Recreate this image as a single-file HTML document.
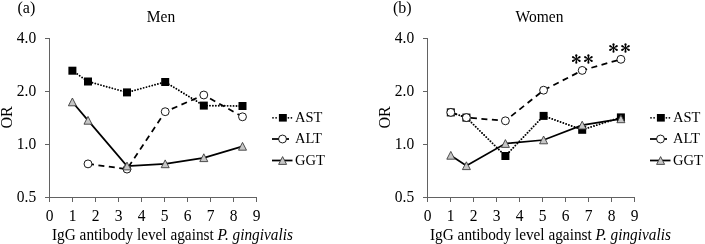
<!DOCTYPE html>
<html><head><meta charset="utf-8"><style>
html,body{margin:0;padding:0;background:#fff;}
body{width:705px;height:244px;overflow:hidden;}
svg{display:block;will-change:transform;}
svg{font-family:"Liberation Serif", serif;font-size:16px;} text{fill:#000;}
</style></head><body>
<svg width="705" height="244" viewBox="0 0 705 244">
<rect width="705" height="244" fill="#fff"/>
<g stroke="#626262" stroke-width="1">
<line x1="49.5" y1="38" x2="49.5" y2="202"/>
<line x1="45.0" y1="197.5" x2="257.0" y2="197.5"/>
<line x1="45.0" y1="38.5" x2="49.5" y2="38.5"/>
<line x1="45.0" y1="91.5" x2="49.5" y2="91.5"/>
<line x1="45.0" y1="144.5" x2="49.5" y2="144.5"/>
<line x1="45.0" y1="197.5" x2="49.5" y2="197.5"/>
<line x1="49.5" y1="197" x2="49.5" y2="202"/>
<line x1="72.5" y1="197" x2="72.5" y2="202"/>
<line x1="95.5" y1="197" x2="95.5" y2="202"/>
<line x1="118.5" y1="197" x2="118.5" y2="202"/>
<line x1="141.5" y1="197" x2="141.5" y2="202"/>
<line x1="164.5" y1="197" x2="164.5" y2="202"/>
<line x1="187.5" y1="197" x2="187.5" y2="202"/>
<line x1="210.5" y1="197" x2="210.5" y2="202"/>
<line x1="233.5" y1="197" x2="233.5" y2="202"/>
<line x1="256.5" y1="197" x2="256.5" y2="202"/>
</g>
<text transform="translate(36.20,42.80) scale(1,1.05)" text-anchor="end" style="font-size:15.5px">4.0</text>
<text transform="translate(36.20,95.80) scale(1,1.05)" text-anchor="end" style="font-size:15.5px">2.0</text>
<text transform="translate(36.20,148.80) scale(1,1.05)" text-anchor="end" style="font-size:15.5px">1.0</text>
<text transform="translate(36.20,201.80) scale(1,1.05)" text-anchor="end" style="font-size:15.5px">0.5</text>
<text transform="translate(49.50,220.50) scale(1,1.05)" text-anchor="middle" style="font-size:15.5px">0</text>
<text transform="translate(72.50,220.50) scale(1,1.05)" text-anchor="middle" style="font-size:15.5px">1</text>
<text transform="translate(95.50,220.50) scale(1,1.05)" text-anchor="middle" style="font-size:15.5px">2</text>
<text transform="translate(118.50,220.50) scale(1,1.05)" text-anchor="middle" style="font-size:15.5px">3</text>
<text transform="translate(141.50,220.50) scale(1,1.05)" text-anchor="middle" style="font-size:15.5px">4</text>
<text transform="translate(164.50,220.50) scale(1,1.05)" text-anchor="middle" style="font-size:15.5px">5</text>
<text transform="translate(187.50,220.50) scale(1,1.05)" text-anchor="middle" style="font-size:15.5px">6</text>
<text transform="translate(210.50,220.50) scale(1,1.05)" text-anchor="middle" style="font-size:15.5px">7</text>
<text transform="translate(233.50,220.50) scale(1,1.05)" text-anchor="middle" style="font-size:15.5px">8</text>
<text transform="translate(256.50,220.50) scale(1,1.05)" text-anchor="middle" style="font-size:15.5px">9</text>
<text transform="translate(52.00,239.60) scale(1,1.05)" style="font-size:15.3px">IgG antibody level against <tspan font-style="italic">P. gingivalis</tspan></text>
<text transform="translate(12.0,117.5) rotate(-90)" text-anchor="middle">OR</text>
<text transform="translate(17.50,12.50) scale(1,1.0)" style="font-size:16.0px">(a)</text>
<text transform="translate(161.00,21.70) scale(1,1.05)" text-anchor="middle" style="font-size:15.5px">Men</text>
<polyline points="72.4,70.7 88.0,81.5 127.0,92.4 165.2,82.0 203.8,105.60000000000001 242.5,106.0" fill="none" stroke="#000" stroke-width="1.9" stroke-dasharray="0.01 2.94" stroke-linecap="round"/>
<polyline points="88.0,163.9 127.0,169.1 165.2,111.7 203.8,95.0 242.5,116.80000000000001" fill="none" stroke="#000" stroke-width="1.75" stroke-dasharray="6 4.5"/>
<polyline points="72.4,102.0 88.0,120.4 127.0,166.1 165.2,163.9 203.8,157.8 242.5,146.4" fill="none" stroke="#000" stroke-width="1.75"/>
<rect x="68.4" y="66.7" width="8" height="8" fill="#000"/>
<rect x="84.0" y="77.5" width="8" height="8" fill="#000"/>
<rect x="123.0" y="88.4" width="8" height="8" fill="#000"/>
<rect x="161.2" y="78.0" width="8" height="8" fill="#000"/>
<rect x="199.8" y="101.60000000000001" width="8" height="8" fill="#000"/>
<rect x="238.5" y="102.0" width="8" height="8" fill="#000"/>
<circle cx="88.0" cy="163.9" r="3.95" fill="#fff" stroke="#000" stroke-width="0.9"/>
<circle cx="127.0" cy="169.1" r="3.95" fill="#fff" stroke="#000" stroke-width="0.9"/>
<circle cx="165.2" cy="111.7" r="3.95" fill="#fff" stroke="#000" stroke-width="0.9"/>
<circle cx="203.8" cy="95.0" r="3.95" fill="#fff" stroke="#000" stroke-width="0.9"/>
<circle cx="242.5" cy="116.80000000000001" r="3.95" fill="#fff" stroke="#000" stroke-width="0.9"/>
<polygon points="72.4,98.0 76.4,105.8 68.4,105.8" fill="#c6c6c6" stroke="#3c3c3c" stroke-width="0.9"/>
<polygon points="88.0,116.4 92.0,124.2 84.0,124.2" fill="#c6c6c6" stroke="#3c3c3c" stroke-width="0.9"/>
<polygon points="127.0,162.1 131.0,169.9 123.0,169.9" fill="#c6c6c6" stroke="#3c3c3c" stroke-width="0.9"/>
<polygon points="165.2,159.9 169.2,167.70000000000002 161.2,167.70000000000002" fill="#c6c6c6" stroke="#3c3c3c" stroke-width="0.9"/>
<polygon points="203.8,153.8 207.8,161.60000000000002 199.8,161.60000000000002" fill="#c6c6c6" stroke="#3c3c3c" stroke-width="0.9"/>
<polygon points="242.5,142.4 246.5,150.20000000000002 238.5,150.20000000000002" fill="#c6c6c6" stroke="#3c3c3c" stroke-width="0.9"/>
<g style="font-size:14.5px">
<circle cx="273.0" cy="117.8" r="0.9" fill="#000"/>
<circle cx="276.1" cy="117.8" r="0.9" fill="#000"/>
<circle cx="288.4" cy="117.8" r="0.9" fill="#000"/>
<circle cx="291.4" cy="117.8" r="0.9" fill="#000"/>
<rect x="278.9" y="114" width="7.9" height="7.6" fill="#000"/>
<text transform="translate(295.00,121.60) scale(1,1.05)" style="font-size:14.5px">AST</text>
<line x1="272" y1="139" x2="289" y2="139" stroke="#000" stroke-width="1.75"/>
<circle cx="282.5" cy="139" r="3.95" fill="#fff" stroke="#000" stroke-width="0.9"/>
<text transform="translate(295.00,143.20) scale(1,1.05)" style="font-size:14.5px">ALT</text>
<line x1="272" y1="160.5" x2="292.5" y2="160.5" stroke="#000" stroke-width="1.75"/>
<polygon points="282.6,156.6 286.6,164.4 278.6,164.4" fill="#c6c6c6" stroke="#3c3c3c" stroke-width="0.9"/>
<text transform="translate(295.00,164.70) scale(1,1.05)" style="font-size:14.5px">GGT</text>
</g>
<g stroke="#626262" stroke-width="1">
<line x1="427.5" y1="38" x2="427.5" y2="202"/>
<line x1="423.0" y1="197.5" x2="635.0" y2="197.5"/>
<line x1="423.0" y1="38.5" x2="427.5" y2="38.5"/>
<line x1="423.0" y1="91.5" x2="427.5" y2="91.5"/>
<line x1="423.0" y1="144.5" x2="427.5" y2="144.5"/>
<line x1="423.0" y1="197.5" x2="427.5" y2="197.5"/>
<line x1="427.5" y1="197" x2="427.5" y2="202"/>
<line x1="450.5" y1="197" x2="450.5" y2="202"/>
<line x1="473.5" y1="197" x2="473.5" y2="202"/>
<line x1="496.5" y1="197" x2="496.5" y2="202"/>
<line x1="519.5" y1="197" x2="519.5" y2="202"/>
<line x1="542.5" y1="197" x2="542.5" y2="202"/>
<line x1="565.5" y1="197" x2="565.5" y2="202"/>
<line x1="588.5" y1="197" x2="588.5" y2="202"/>
<line x1="611.5" y1="197" x2="611.5" y2="202"/>
<line x1="634.5" y1="197" x2="634.5" y2="202"/>
</g>
<text transform="translate(414.20,42.80) scale(1,1.05)" text-anchor="end" style="font-size:15.5px">4.0</text>
<text transform="translate(414.20,95.80) scale(1,1.05)" text-anchor="end" style="font-size:15.5px">2.0</text>
<text transform="translate(414.20,148.80) scale(1,1.05)" text-anchor="end" style="font-size:15.5px">1.0</text>
<text transform="translate(414.20,201.80) scale(1,1.05)" text-anchor="end" style="font-size:15.5px">0.5</text>
<text transform="translate(427.50,220.50) scale(1,1.05)" text-anchor="middle" style="font-size:15.5px">0</text>
<text transform="translate(450.50,220.50) scale(1,1.05)" text-anchor="middle" style="font-size:15.5px">1</text>
<text transform="translate(473.50,220.50) scale(1,1.05)" text-anchor="middle" style="font-size:15.5px">2</text>
<text transform="translate(496.50,220.50) scale(1,1.05)" text-anchor="middle" style="font-size:15.5px">3</text>
<text transform="translate(519.50,220.50) scale(1,1.05)" text-anchor="middle" style="font-size:15.5px">4</text>
<text transform="translate(542.50,220.50) scale(1,1.05)" text-anchor="middle" style="font-size:15.5px">5</text>
<text transform="translate(565.50,220.50) scale(1,1.05)" text-anchor="middle" style="font-size:15.5px">6</text>
<text transform="translate(588.50,220.50) scale(1,1.05)" text-anchor="middle" style="font-size:15.5px">7</text>
<text transform="translate(611.50,220.50) scale(1,1.05)" text-anchor="middle" style="font-size:15.5px">8</text>
<text transform="translate(634.50,220.50) scale(1,1.05)" text-anchor="middle" style="font-size:15.5px">9</text>
<text transform="translate(430.00,239.60) scale(1,1.05)" style="font-size:15.3px">IgG antibody level against <tspan font-style="italic">P. gingivalis</tspan></text>
<text transform="translate(390.0,117.5) rotate(-90)" text-anchor="middle">OR</text>
<text transform="translate(392.90,12.50) scale(1,1.0)" style="font-size:16.0px">(b)</text>
<text transform="translate(539.50,21.70) scale(1,1.05)" text-anchor="middle" style="font-size:15.5px">Women</text>
<polyline points="450.79999999999995,112.4 466.4,117.60000000000001 505.4,156.0 543.5999999999999,115.9 582.2,129.8 620.9,117.4" fill="none" stroke="#000" stroke-width="1.9" stroke-dasharray="0.01 2.94" stroke-linecap="round"/>
<polyline points="450.79999999999995,112.4 466.4,117.60000000000001 505.4,120.80000000000001 543.5999999999999,90.2 582.2,70.4 620.9,59.3" fill="none" stroke="#000" stroke-width="1.75" stroke-dasharray="6 4.5"/>
<polyline points="450.79999999999995,155.4 466.4,165.8 505.4,143.6 543.5999999999999,140.0 582.2,125.2 620.9,118.9" fill="none" stroke="#000" stroke-width="1.75"/>
<rect x="446.79999999999995" y="108.4" width="8" height="8" fill="#000"/>
<rect x="462.4" y="113.60000000000001" width="8" height="8" fill="#000"/>
<rect x="501.4" y="152.0" width="8" height="8" fill="#000"/>
<rect x="539.5999999999999" y="111.9" width="8" height="8" fill="#000"/>
<rect x="578.2" y="125.80000000000001" width="8" height="8" fill="#000"/>
<rect x="616.9" y="113.4" width="8" height="8" fill="#000"/>
<circle cx="450.79999999999995" cy="112.4" r="3.95" fill="#fff" stroke="#000" stroke-width="0.9"/>
<circle cx="466.4" cy="117.60000000000001" r="3.95" fill="#fff" stroke="#000" stroke-width="0.9"/>
<circle cx="505.4" cy="120.80000000000001" r="3.95" fill="#fff" stroke="#000" stroke-width="0.9"/>
<circle cx="543.5999999999999" cy="90.2" r="3.95" fill="#fff" stroke="#000" stroke-width="0.9"/>
<circle cx="582.2" cy="70.4" r="3.95" fill="#fff" stroke="#000" stroke-width="0.9"/>
<circle cx="620.9" cy="59.3" r="3.95" fill="#fff" stroke="#000" stroke-width="0.9"/>
<polygon points="450.79999999999995,151.4 454.79999999999995,159.20000000000002 446.79999999999995,159.20000000000002" fill="#c6c6c6" stroke="#3c3c3c" stroke-width="0.9"/>
<polygon points="466.4,161.8 470.4,169.60000000000002 462.4,169.60000000000002" fill="#c6c6c6" stroke="#3c3c3c" stroke-width="0.9"/>
<polygon points="505.4,139.6 509.4,147.4 501.4,147.4" fill="#c6c6c6" stroke="#3c3c3c" stroke-width="0.9"/>
<polygon points="543.5999999999999,136.0 547.5999999999999,143.8 539.5999999999999,143.8" fill="#c6c6c6" stroke="#3c3c3c" stroke-width="0.9"/>
<polygon points="582.2,121.2 586.2,129.0 578.2,129.0" fill="#c6c6c6" stroke="#3c3c3c" stroke-width="0.9"/>
<polygon points="620.9,114.9 624.9,122.7 616.9,122.7" fill="#c6c6c6" stroke="#3c3c3c" stroke-width="0.9"/>
<g style="font-size:14.5px">
<circle cx="651.0" cy="117.8" r="0.9" fill="#000"/>
<circle cx="654.1" cy="117.8" r="0.9" fill="#000"/>
<circle cx="666.4" cy="117.8" r="0.9" fill="#000"/>
<circle cx="669.4" cy="117.8" r="0.9" fill="#000"/>
<rect x="656.9" y="114" width="7.9" height="7.6" fill="#000"/>
<text transform="translate(673.00,121.60) scale(1,1.05)" style="font-size:14.5px">AST</text>
<line x1="650" y1="139" x2="667" y2="139" stroke="#000" stroke-width="1.75"/>
<circle cx="660.5" cy="139" r="3.95" fill="#fff" stroke="#000" stroke-width="0.9"/>
<text transform="translate(673.00,143.20) scale(1,1.05)" style="font-size:14.5px">ALT</text>
<line x1="650" y1="160.5" x2="670.5" y2="160.5" stroke="#000" stroke-width="1.75"/>
<polygon points="660.6,156.6 664.6,164.4 656.6,164.4" fill="#c6c6c6" stroke="#3c3c3c" stroke-width="0.9"/>
<text transform="translate(673.00,164.70) scale(1,1.05)" style="font-size:14.5px">GGT</text>
</g>
<g fill="#000">
<path transform="translate(576.3,59) rotate(-90) scale(1.0)" d="M0,-0.3 L3.8,-1.05 A1.05,1.05 0 0 1 3.8,1.05 L0,0.3 Z"/><path transform="translate(576.3,59) rotate(90) scale(1.0)" d="M0,-0.3 L3.8,-1.05 A1.05,1.05 0 0 1 3.8,1.05 L0,0.3 Z"/><path transform="translate(576.3,59) rotate(-30) scale(1.0)" d="M0,-0.3 L3.8,-1.05 A1.05,1.05 0 0 1 3.8,1.05 L0,0.3 Z"/><path transform="translate(576.3,59) rotate(30) scale(1.0)" d="M0,-0.3 L3.8,-1.05 A1.05,1.05 0 0 1 3.8,1.05 L0,0.3 Z"/><path transform="translate(576.3,59) rotate(150) scale(1.0)" d="M0,-0.3 L3.8,-1.05 A1.05,1.05 0 0 1 3.8,1.05 L0,0.3 Z"/><path transform="translate(576.3,59) rotate(210) scale(1.0)" d="M0,-0.3 L3.8,-1.05 A1.05,1.05 0 0 1 3.8,1.05 L0,0.3 Z"/>
<path transform="translate(588.4,59) rotate(-90) scale(1.0)" d="M0,-0.3 L3.8,-1.05 A1.05,1.05 0 0 1 3.8,1.05 L0,0.3 Z"/><path transform="translate(588.4,59) rotate(90) scale(1.0)" d="M0,-0.3 L3.8,-1.05 A1.05,1.05 0 0 1 3.8,1.05 L0,0.3 Z"/><path transform="translate(588.4,59) rotate(-30) scale(1.0)" d="M0,-0.3 L3.8,-1.05 A1.05,1.05 0 0 1 3.8,1.05 L0,0.3 Z"/><path transform="translate(588.4,59) rotate(30) scale(1.0)" d="M0,-0.3 L3.8,-1.05 A1.05,1.05 0 0 1 3.8,1.05 L0,0.3 Z"/><path transform="translate(588.4,59) rotate(150) scale(1.0)" d="M0,-0.3 L3.8,-1.05 A1.05,1.05 0 0 1 3.8,1.05 L0,0.3 Z"/><path transform="translate(588.4,59) rotate(210) scale(1.0)" d="M0,-0.3 L3.8,-1.05 A1.05,1.05 0 0 1 3.8,1.05 L0,0.3 Z"/>
<path transform="translate(613.5,48) rotate(-90) scale(1.0)" d="M0,-0.3 L3.8,-1.05 A1.05,1.05 0 0 1 3.8,1.05 L0,0.3 Z"/><path transform="translate(613.5,48) rotate(90) scale(1.0)" d="M0,-0.3 L3.8,-1.05 A1.05,1.05 0 0 1 3.8,1.05 L0,0.3 Z"/><path transform="translate(613.5,48) rotate(-30) scale(1.0)" d="M0,-0.3 L3.8,-1.05 A1.05,1.05 0 0 1 3.8,1.05 L0,0.3 Z"/><path transform="translate(613.5,48) rotate(30) scale(1.0)" d="M0,-0.3 L3.8,-1.05 A1.05,1.05 0 0 1 3.8,1.05 L0,0.3 Z"/><path transform="translate(613.5,48) rotate(150) scale(1.0)" d="M0,-0.3 L3.8,-1.05 A1.05,1.05 0 0 1 3.8,1.05 L0,0.3 Z"/><path transform="translate(613.5,48) rotate(210) scale(1.0)" d="M0,-0.3 L3.8,-1.05 A1.05,1.05 0 0 1 3.8,1.05 L0,0.3 Z"/>
<path transform="translate(625.5,48) rotate(-90) scale(1.0)" d="M0,-0.3 L3.8,-1.05 A1.05,1.05 0 0 1 3.8,1.05 L0,0.3 Z"/><path transform="translate(625.5,48) rotate(90) scale(1.0)" d="M0,-0.3 L3.8,-1.05 A1.05,1.05 0 0 1 3.8,1.05 L0,0.3 Z"/><path transform="translate(625.5,48) rotate(-30) scale(1.0)" d="M0,-0.3 L3.8,-1.05 A1.05,1.05 0 0 1 3.8,1.05 L0,0.3 Z"/><path transform="translate(625.5,48) rotate(30) scale(1.0)" d="M0,-0.3 L3.8,-1.05 A1.05,1.05 0 0 1 3.8,1.05 L0,0.3 Z"/><path transform="translate(625.5,48) rotate(150) scale(1.0)" d="M0,-0.3 L3.8,-1.05 A1.05,1.05 0 0 1 3.8,1.05 L0,0.3 Z"/><path transform="translate(625.5,48) rotate(210) scale(1.0)" d="M0,-0.3 L3.8,-1.05 A1.05,1.05 0 0 1 3.8,1.05 L0,0.3 Z"/>
</g>
</svg>
</body></html>
